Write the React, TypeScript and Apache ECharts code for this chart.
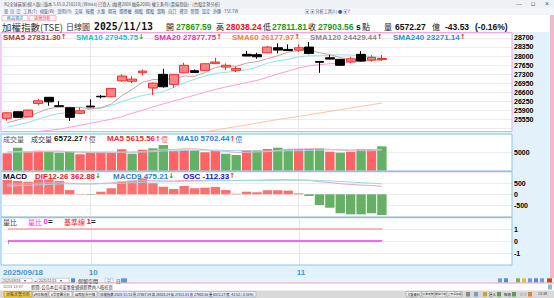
import React, { useEffect, useRef } from 'react';
import * as echarts from 'echarts';

// ---------- data ----------
const dates = [
  '2025/09/18', '2025/09/19', '2025/09/22', '2025/09/23', '2025/09/24', '2025/09/25', '2025/09/26', '2025/09/30',
  '2025/10/01', '2025/10/02', '2025/10/03', '2025/10/07', '2025/10/08', '2025/10/09', '2025/10/13', '2025/10/14',
  '2025/10/15', '2025/10/16', '2025/10/17', '2025/10/20', '2025/10/21', '2025/10/22', '2025/10/23', '2025/10/27',
  '2025/10/28', '2025/10/29', '2025/10/30', '2025/10/31', '2025/11/03', '2025/11/04', '2025/11/05', '2025/11/06',
  '2025/11/07', '2025/11/10', '2025/11/11', '2025/11/12', '2025/11/13',
];
const opens = [25585, 25840, 25645, 26165, 26400, 26075, 25995, 25780, 26060, 26440, 26420, 27040, 27020, 27350, 26760, 27290, 26900, 27350, 27430, 27445, 27715, 27570, 27445, 28065, 28050, 28125, 28320, 28255, 28230, 28345, 27790, 27930, 27870, 27775, 28065, 27845, 27867.59];
const highs = [25815, 25850, 25920, 26330, 26410, 26255, 26005, 26010, 26320, 26490, 26755, 27290, 27220, 27480, 26970, 27505, 27300, 27740, 27480, 27720, 27930, 27715, 27585, 28190, 28125, 28385, 28490, 28450, 28450, 28540, 27805, 28035, 27880, 27970, 28190, 28035, 28038.24];
const lows = [25495, 25610, 25630, 26090, 26070, 26040, 25490, 25750, 26015, 26360, 26410, 27000, 26950, 27250, 26490, 26770, 26770, 27340, 27350, 27415, 27705, 27455, 27380, 27990, 27895, 28100, 28100, 28200, 28155, 28065, 27350, 27870, 27610, 27715, 27790, 27780, 27811.81];
const closes = [25800, 25625, 25905, 26265, 26225, 26050, 25625, 25880, 26025, 26420, 26745, 27225, 27105, 27415, 26950, 26810, 27290, 27640, 27365, 27700, 27765, 27640, 27520, 28000, 27970, 28345, 28230, 28210, 28320, 28100, 27755, 27880, 27640, 27890, 27805, 27947.09, 27903.56];

const sma5 = [25420, 25520, 25650, 25815, 25964, 26014, 26014, 26009, 25961, 26000, 26139, 26459, 26704, 26982, 27088, 27101, 27114, 27221, 27211, 27361, 27552, 27622, 27598, 27725, 27779, 27895, 28013, 28151, 28215, 28241, 28123, 28053, 27939, 27853, 27794, 27832, 27831.3];
const sma10 = [25250, 25330, 25430, 25560, 25680, 25770, 25820, 25870, 25940, 25982, 26077, 26237, 26357, 26472, 26544, 26620, 26787, 26963, 27097, 27225, 27327, 27368, 27410, 27468, 27570, 27724, 27818, 27875, 27970, 28010, 28009, 28033, 28045, 28034, 28017, 27977, 27945.75];
const sma20 = [24950, 24990, 25040, 25080, 25120, 25165, 25241, 25318, 25396, 25473, 25551, 25652, 25784, 25900, 26028, 26144, 26260, 26370, 26480, 26600, 26702, 26802, 26883, 26970, 27057, 27172, 27302, 27419, 27533, 27617, 27668, 27701, 27727, 27751, 27794, 27851, 27877.75];
const sma60 = [23910, 23975, 24030, 24095, 24150, 24215, 24270, 24330, 24395, 24450, 24515, 24570, 24630, 24695, 24750, 24815, 24870, 24935, 24990, 25060, 25130, 25200, 25265, 25330, 25400, 25470, 25540, 25600, 25660, 25725, 25790, 25855, 25920, 25985, 26050, 26114, 26177.97];

const volumes = [4700, 6210, 4970, 5400, 5130, 4860, 5130, 4430, 4860, 5050, 4860, 5780, 4590, 5670, 6050, 6940, 5320, 5670, 5510, 4970, 5320, 4590, 4240, 5590, 5510, 5860, 6210, 5860, 5860, 5860, 6050, 5130, 4860, 5130, 5860, 5780, 6572.27];
const volMa5 = [5000, 5150, 5100, 5200, 5282, 5314, 5098, 4990, 4882, 4866, 4866, 4996, 5028, 5190, 5390, 5806, 5714, 5930, 5898, 5682, 5358, 5212, 4926, 4942, 5050, 5158, 5482, 5806, 5860, 5930, 5968, 5752, 5552, 5406, 5406, 5352, 5615.56];
const volMa10 = [5050, 5100, 5100, 5120, 5140, 5150, 5140, 5100, 5080, 5074, 5090, 5047, 5009, 5036, 5128, 5336, 5355, 5479, 5544, 5536, 5582, 5463, 5428, 5420, 5366, 5258, 5347, 5366, 5401, 5490, 5563, 5617, 5679, 5633, 5668, 5660, 5702.44];

const dif = [453.5, 465.5, 478.5, 511.8, 532, 541, 497.8, 477.3, 471.5, 492, 519.3, 571.3, 595.8, 630.5, 618.5, 609.8, 605, 632.3, 628.5, 640.5, 654.5, 643.3, 623.8, 638.3, 638, 654.5, 660, 663, 649.3, 633, 569.5, 536.3, 480.5, 447.3, 420, 400.3, 362.88];
const dea = [375.5, 393.5, 410.5, 430.8, 451, 469, 474.8, 475.3, 474.5, 478, 486.3, 503.3, 521.8, 543.5, 558.5, 568.8, 576, 587.3, 595.5, 604.5, 614.5, 620.3, 620.8, 624.3, 627, 632.5, 638, 643, 644.3, 642, 627.5, 609.3, 583.5, 556.3, 529, 503.3, 475.21];
const osc = [78, 72, 68, 81, 81, 72, 23, 2, -3, 14, 33, 68, 74, 87, 60, 41, 29, 45, 33, 36, 40, 23, 3, 14, 11, 22, 22, 20, 5, -9, -58, -73, -103, -109, -109, -103, -112.33];

const volRatio = [0, 0, 0, 0, 0, 0, 0, 0, 0, 0, 0, 0, 0, 0, 0, 0, 0, 0, 0, 0, 0, 0, 0, 0, 0, 0, 0, 0, 0, 0, 0, 0, 0, 0, 0, 0, 0];
const baseLine = [1, 1, 1, 1, 1, 1, 1, 1, 1, 1, 1, 1, 1, 1, 1, 1, 1, 1, 1, 1, 1, 1, 1, 1, 1, 1, 1, 1, 1, 1, 1, 1, 1, 1, 1, 1, 1];

const prevClose = 27947.09;

// ---------- styling ----------
const UP = '#ff2b2b';
const GREEN = '#1a9a1a';
const LATIN = '"Liberation Sans", Arial, sans-serif';
const CJK = '"Noto Sans CJK TC", "Noto Sans CJK SC", sans-serif';
const ARROW = '"DejaVu Sans", sans-serif';
const LIGHT_BLUE = '#e3f1fb';
const PINK_BORDER = '#f0a8e8';
const BLUE_BORDER = '#8ec5ea';

const monthStarts = dates.filter((d, i) => i > 0 && d.slice(0, 7) !== dates[i - 1].slice(0, 7));
const isLabelIdx = (i: number) => i === 0 || (i > 0 && i < dates.length && dates[i].slice(0, 7) !== dates[i - 1].slice(0, 7));

const T = (x: number, y: number, text: string, fill: string, font: string, align: string = 'left', lineHeight?: number) => ({
  type: 'text', x, y, z: 100, silent: true,
  style: { text, fill, font, align, verticalAlign: 'middle', ...(lineHeight ? { lineHeight } : {}) },
});
// rich text: parts flow one after another
const RT = (x: number, y: number, parts: [string, string, string][]) => {
  const rich: any = {};
  let text = '';
  parts.forEach(([t, fill, font], k) => {
    rich['p' + k] = { fill, font, lineHeight: 8 };
    text += `{p${k}|${t}}`;
  });
  return { type: 'text', x, y, z: 100, silent: true, style: { text, rich, align: 'left', verticalAlign: 'middle' } };
};
const R = (x: number, y: number, w: number, h: number, fill: string, stroke?: string, z = -10) => ({
  type: 'rect', z, silent: true, shape: { x, y, width: w, height: h },
  style: { fill, stroke: stroke || null, lineWidth: stroke ? 0.6 : 0 },
});
const Box = (x: number, y: number, w: number, h: number, stroke: string) => ({
  type: 'rect', z: 90, silent: true, shape: { x, y, width: w, height: h }, style: { fill: null, stroke, lineWidth: 1 },
});

export default function App() {
  const ref = useRef<HTMLDivElement>(null);

  useEffect(() => {
    if (!ref.current) return;
    const chart = echarts.init(ref.current, undefined, { renderer: 'svg' });

    const B8 = `bold 8px ${LATIN}`;
    const AR = `bold 7px ${ARROW}`;
    const up: [string, string, string] = ['↑', UP, AR];
    const dn: [string, string, string] = ['↓', GREEN, AR];
    const HP = `bold 8.5px ${LATIN}`;
    const HC = `8px ${CJK}`;
    const HY = 26.7;

    const graphic: any[] = [
      // page backgrounds
      R(0, 0, 554, 8, '#eef2f7'),
      R(0, 8, 554, 7, '#f3f5f8'),
      R(0, 15, 554, 7, '#ffffff'),
      R(0, 22, 554, 10, '#ffffff'),
      R(0, 32, 550, 246, LIGHT_BLUE),
      R(550, 15, 4, 268, '#f3b9c9'),
      // panels
      R(1, 32.5, 511, 99, '#ffffff'),
      R(1, 134, 511, 37, '#ffffff'),
      R(1, 171.5, 511, 45.5, '#ffffff'),
      R(1, 217.5, 511, 47.5, '#ffffff'),
      Box(1, 32.5, 511, 99, PINK_BORDER),
      Box(1, 134, 511, 37, BLUE_BORDER),
      Box(1, 171.5, 511, 45.5, BLUE_BORDER),
      Box(1, 217.5, 511, 47.5, BLUE_BORDER),
      // bottom areas
      R(0, 278, 554, 5, '#e8f2fa'),
      R(0, 283, 554, 7.5, '#ffffff'),
      { type: 'line', z: 90, silent: true, shape: { x1: 0, y1: 283, x2: 554, y2: 283 }, style: { stroke: '#f0a0b4', lineWidth: 1 } },
      R(0, 290.5, 554, 7.5, '#d9d9d9'),

      // title bar
      T(4, 3.8, 'XQ全球贏家(個人版) [版本 5.65.0.250210] [Win64] 已登入 (融資2000 融券2000) 權王系列 (雲端登錄) - [台股走勢分析]', '#555', `4.2px ${CJK}`, 'left', 5),
      T(519, 3.5, '—', '#555', `6px ${LATIN}`, 'center', 6),
      T(533, 3.5, '▫', '#555', `7px ${ARROW}`, 'center', 6),
      T(547, 3.5, '×', '#555', `7px ${LATIN}`, 'center', 6),
      // toolbar
      T(4, 11.3, '▦  ▤  ▥   工具(T)   視窗(W)   說明(H)   交易   報價   大盤   期貨   選擇權   個股   選股   策略   自訂   資訊   新聞   設定   外匯   TSE.TW', '#3a5a8a', `4.2px ${CJK}`, 'left', 5),
      T(305, 11.3, '▣ ▣ 分析工具(L) ● ▣ f', '#3a5a8a', `4.2px ${CJK}`, 'left', 5),
      // tabs
      { type: 'rect', z: 1, silent: true, shape: { x: 2, y: 15.4, width: 26, height: 5.4 }, style: { fill: '#ffffff', stroke: '#f0a0c0', lineWidth: 0.8 } },
      { type: 'rect', z: 1, silent: true, shape: { x: 29, y: 15.4, width: 27, height: 5.4 }, style: { fill: '#fff0f6', stroke: '#f0a0c0', lineWidth: 0.8 } },
      T(15, 18, '商品資訊', '#3a7ab8', `4.1px ${CJK}`, 'center', 4.5),
      T(42.5, 18, '技術分析', '#e03040', `4.1px ${CJK}`, 'center', 4.5),

      // header line
      T(2, HY, '加權指數(TSE)', '#333', `9.5px ${CJK}`, 'left', 10),
      T(66, HY, '日線圖', '#333', `8px ${CJK}`, 'left', 9),
      T(94, HY, '2025/11/13', '#111', 'bold 9.8px "DejaVu Sans Mono"', 'left', 10),
      T(166, HY, '開', '#222', HC, 'left', 9),
      T(176, HY, '27867.59', GREEN, HP, 'left', 9),
      T(216, HY, '高', '#222', HC, 'left', 9),
      T(226, HY, '28038.24', '#ee1111', HP, 'left', 9),
      T(263, HY, '低', '#222', HC, 'left', 9),
      T(272, HY, '27811.81', GREEN, HP, 'left', 9),
      T(308, HY, '收', '#222', HC, 'left', 9),
      T(318, HY, '27903.56', GREEN, HP, 'left', 9),
      T(356, HY, 's', '#111', HP, 'left', 9),
      T(362, HY, '點', '#222', HC, 'left', 9),
      T(384, HY, '量', '#222', HC, 'left', 9),
      T(395, HY, '6572.27', '#111', HP, 'left', 9),
      T(432, HY, '億', '#222', HC, 'left', 9),
      T(445, HY, (closes[36] - prevClose).toFixed(2), '#111', HP, 'left', 9),
      T(475, HY, '(-0.16%)', '#111', HP, 'left', 9),

      // SMA legend
      RT(3, 37.2, [['SMA5 27831.30', '#b03a2e', B8], up]),
      RT(76, 37.2, [['SMA10 27945.75', '#22c0c8', B8], dn]),
      RT(154, 37.2, [['SMA20 27877.75', '#e8349c', B8], up]),
      RT(232, 37.2, [['SMA60 26177.97', '#ff7a3a', B8], up]),
      RT(310, 37.2, [['SMA120 24429.44', '#8a8a8a', B8], up]),
      RT(393, 37.2, [['SMA240 23271.14', '#2b8fde', B8], up]),

      // volume legend
      T(3, 138.6, '成交量', '#555', `7px ${CJK}`, 'left', 8),
      T(31, 138.6, '成交量', '#333', `7px ${CJK}`, 'left', 8),
      RT(54, 138.6, [['6572.27', '#111', B8], up, ['億', '#666', `7px ${CJK}`]]),
      RT(107, 138.6, [['MA5 5615.56', '#ee2a2a', B8], up, ['億', '#ee5a5a', `7px ${CJK}`]]),
      RT(177, 138.6, [['MA10 5702.44', '#2a80d6', B8], up, ['億', '#2a80d6', `7px ${CJK}`]]),

      // MACD legend
      T(3, 176.3, 'MACD', '#111', B8, 'left', 8),
      RT(35, 176.3, [['DIF12-26 362.88', '#ee2222', B8], dn]),
      RT(113, 176.3, [['MACD9 475.21', '#2a80d6', B8], dn]),
      RT(183, 176.3, [['OSC -112.33', '#1414c8', B8], up]),

      // ratio legend
      T(3, 221.6, '量比', '#444', `7px ${CJK}`, 'left', 8),
      RT(28, 221.6, [['量比 ', '#ff30ff', `7px ${CJK}`], ['0', '#ff30ff', B8], ['=', '#111', B8]]),
      RT(64, 221.6, [['基準線 ', '#ee2222', `7px ${CJK}`], ['1', '#ee2222', B8], ['=', '#111', B8]]),

      // controls row
      { type: 'rect', z: 1, silent: true, shape: { x: 2, y: 278.3, width: 30, height: 4.4 }, style: { fill: '#fff', stroke: '#9aa', lineWidth: 0.5 } },
      T(3, 280.5, '2025/09/18    ▾', '#444', `3.5px ${LATIN}`, 'left', 4),
      T(34, 280.5, '~', '#444', `5px ${LATIN}`, 'left', 5),
      { type: 'rect', z: 1, silent: true, shape: { x: 38, y: 278.3, width: 31, height: 4.4 }, style: { fill: '#fff', stroke: '#9aa', lineWidth: 0.5 } },
      T(39, 280.5, '2025/11/13    ▾', '#444', `3.5px ${LATIN}`, 'left', 4),
      R(71, 278.3, 4, 4.4, '#4a8fd0', undefined, 1),
      T(78, 280.5, '保留空間', '#333', `5px ${CJK}`, 'left', 5),
      { type: 'rect', z: 1, silent: true, shape: { x: 105, y: 278.3, width: 8, height: 4.4 }, style: { fill: '#fff', stroke: '#9aa', lineWidth: 0.5 } },
      T(107, 280.5, '12', '#444', `3.5px ${LATIN}`, 'left', 4),
      T(116, 280.5, '日', '#333', `4.5px ${CJK}`, 'left', 5),
      R(121, 278.3, 6, 4.4, '#5a9ad6', undefined, 1),
      R(498, 278.3, 4, 4.2, '#6aa0d8', undefined, 1), R(504, 278.3, 4, 4.2, '#4f8fd0', undefined, 1),
      R(510, 278.3, 4, 4.2, '#e8f0f8', undefined, 1), R(516, 278.3, 4, 4.2, '#7ab060', undefined, 1),
      R(522, 278.3, 4, 4.2, '#e0c040', undefined, 1), R(528, 278.3, 4, 4.2, '#6aa0d8', undefined, 1),
      R(534, 278.3, 4, 4.2, '#4f8fd0', undefined, 1), R(540, 278.3, 4, 4.2, '#6aa0d8', undefined, 1),
      R(547, 278.3, 5, 4.4, '#e03a2a', undefined, 1),

      // news row
      T(3, 287, '11/13 13:37', '#666', `3.8px ${LATIN}`, 'left', 5),
      T(31, 287, '新聞: 公告本公司董事會通過新聘內人稽核案', '#333', `4.2px ${CJK}`, 'left', 5),
      R(548, 284.5, 4, 5, '#8fb8e0', undefined, 1),

      // taskbar
      R(4, 291.5, 28, 5.5, '#ffd34a', '#b08a20', 1),
      T(18, 294.3, '台股走勢分析', '#222', `4px ${CJK}`, 'center', 5),
      R(33, 291.5, 15, 5.5, '#f4f4f4', '#999', 1),
      T(40.5, 294.3, '評估報價', '#222', `3.4px ${CJK}`, 'center', 4),
      R(49, 291.5, 23, 5.5, '#f4f4f4', '#999', 1),
      T(60.5, 294.3, 'k學習圖分析', '#222', `3.4px ${CJK}`, 'center', 4),
      R(73, 291.5, 24, 5.5, '#f4f4f4', '#999', 1),
      T(85, 294.3, '國際股市行情', '#222', `3.4px ${CJK}`, 'center', 4),
      R(99, 291.5, 157, 5.5, '#e6eef8', '#aab', 1),
      T(100, 294.3, '加權指數 2025/11/13 開 27867.59 高 28038.24 低 27811.81 收 27903.56 量 6572.27 億 -43.53 (-0.16%)', '#224', `3.4px ${CJK}`, 'left', 4),
      R(406, 291.5, 15, 5.5, '#f4f4f4', '#999', 1), T(413.5, 294.3, '大盤資料', '#222', `3.2px ${CJK}`, 'center', 4),
      R(422, 291.5, 12, 5.5, '#f4f4f4', '#999', 1), T(428, 294.3, '大盤走勢', '#222', `2.8px ${CJK}`, 'center', 4),
      R(435, 291.5, 11, 5.5, '#f4f4f4', '#999', 1), T(440.5, 294.3, '類股行情', '#222', `2.6px ${CJK}`, 'center', 4),
      R(447, 291.5, 15, 5.5, '#f4f4f4', '#999', 1), T(454.5, 294.3, '上市漲跌幅', '#222', `2.8px ${CJK}`, 'center', 4),
      R(466, 292, 4, 4.5, '#8a8a8a', undefined, 1), R(474, 292, 4, 4.5, '#7a9ac0', undefined, 1),
      R(483, 292, 4, 4.5, '#d0a040', undefined, 1),
      T(489, 294.3, '匯入', '#222', `3.4px ${CJK}`, 'left', 4), R(497, 292, 4, 4.5, '#5aa050', undefined, 1),
      T(504, 294.3, '報價', '#222', `3.4px ${CJK}`, 'left', 4), R(512, 292, 4, 4.5, '#5aa050', undefined, 1),
      T(520, 294.3, '設定', '#999', `3.4px ${CJK}`, 'left', 4), R(528, 292, 4, 4.5, '#e08040', undefined, 1),
      T(538, 294.3, '13:38', '#444', `3.6px ${LATIN}`, 'left', 4),
    ];

    const xBase = (gridIndex: number) => ({
      type: 'category', gridIndex, data: dates, max: dates.length + 11,
      axisLine: { show: false }, axisTick: { show: false }, axisLabel: { show: false }, splitLine: { show: false },
    });
    const yLabel = {
      color: '#000', fontSize: 7, fontWeight: 'bold', fontFamily: 'Liberation Sans', margin: 2,
      showMinLabel: false, showMaxLabel: false, formatter: (v: number) => String(v),
    };
    const gridLine = { lineStyle: { color: '#ececec' } };
    const monthLines = (z = 1) => ({
      silent: true, z, symbol: ['none', 'none'], label: { show: false },
      lineStyle: { color: '#e6e6e6', type: 'solid', width: 1 },
      data: monthStarts.map((d) => ({ xAxis: d })),
    });
    const line = (name: string, data: number[], color: string, xi: number, yi: number, width = 1, extra: any = {}) => ({
      name, type: 'line', data, xAxisIndex: xi, yAxisIndex: yi, symbol: 'none', silent: true,
      lineStyle: { color, width }, itemStyle: { color }, ...extra,
    });
    const dateFont = { color: '#3a9ad9', fontSize: 8, fontWeight: 'bold', fontFamily: 'Liberation Sans' };

    const option: any = {
      animation: false,
      backgroundColor: '#ffffff',
      graphic,
      grid: [
        { left: 2, width: 510, top: 33, height: 95.3 },
        { left: 2, width: 510, top: 33, height: 97.5 },
        { left: 2, width: 510, top: 134.5, height: 36.2 },
        { left: 2, width: 510, top: 172.3, height: 44 },
        { left: 2, width: 510, top: 218.5, height: 46.5 },
      ],
      xAxis: [
        xBase(0), xBase(1), xBase(2), xBase(3),
        {
          ...xBase(4),
          axisTick: {
            show: true, alignWithLabel: true, length: 3, lineStyle: { color: '#7ab4e0' },
            interval: (i: number) => isLabelIdx(i),
          },
          axisLabel: {
            show: true, margin: 3, ...dateFont,
            interval: (i: number) => isLabelIdx(i),
            formatter: (v: string, i: number) => (i === 0 ? `{first|${v}}` : `{mon|${Number(v.slice(5, 7))}}`),
            rich: {
              first: { padding: [0, 0, 0, 30], ...dateFont },
              mon: { padding: [0, 0, 0, 4], ...dateFont },
            },
          },
        },
      ],
      yAxis: [
        { type: 'value', gridIndex: 0, position: 'right', min: 25200, max: 28890.8, interval: 350, axisLine: { show: false }, axisTick: { show: false }, axisLabel: yLabel, splitLine: gridLine },
        { type: 'value', gridIndex: 1, min: 25114.6, max: 28890.8, show: false, splitLine: { show: false } },
        { type: 'value', gridIndex: 2, position: 'right', min: 0, max: 9774, interval: 5000, axisLine: { show: false }, axisTick: { show: false }, axisLabel: yLabel, splitLine: gridLine },
        { type: 'value', gridIndex: 3, position: 'right', min: -1000, max: 1000, interval: 500, axisLine: { show: false }, axisTick: { show: false }, axisLabel: yLabel, splitLine: gridLine },
        { type: 'value', gridIndex: 3, min: -119.5, max: 119.5, show: false, splitLine: { show: false } },
        { type: 'value', gridIndex: 4, position: 'right', min: -2, max: 1.875, interval: 1, axisLine: { show: false }, axisTick: { show: false }, axisLabel: yLabel, splitLine: gridLine },
      ],
      series: [
        line('SMA60', sma60, '#ffc4a4', 1, 1, 1, { z: 1, markLine: monthLines() }),
        line('SMA20', sma20, '#f8a0dc', 1, 1),
        line('SMA10', sma10, '#8ee4e6', 1, 1),
        line('SMA5', sma5, '#c9a29c', 1, 1),
        {
          name: 'K', type: 'candlestick', xAxisIndex: 1, yAxisIndex: 1, z: 3, barWidth: '90%', silent: true,
          data: dates.map((_, i) => [opens[i], closes[i], lows[i], highs[i]]),
          itemStyle: { color: '#ff8585', color0: '#000000', borderColor: '#ff2a2a', borderColor0: '#000000', borderWidth: 1 },
        },
        {
          name: '成交量', type: 'bar', xAxisIndex: 2, yAxisIndex: 2, barWidth: '90%', silent: true,
          markLine: monthLines(1),
          data: volumes.map((v, i) => {
            const isUp = i === 0 ? closes[0] >= opens[0] : closes[i] >= closes[i - 1];
            return { value: v, itemStyle: { color: isUp ? '#ff6464' : '#64b064' } };
          }),
        },
        line('MA5', volMa5, '#e8b0b8', 2, 2, 1, { z: 4 }),
        line('MA10', volMa10, '#a8d4f0', 2, 2, 1, { z: 4 }),
        {
          name: 'OSC', type: 'bar', xAxisIndex: 3, yAxisIndex: 4, barWidth: '90%', silent: true,
          markLine: monthLines(1),
          data: osc.map((v) => ({ value: v, itemStyle: { color: v >= 0 ? '#ff7070' : '#66b066' } })),
        },
        line('DIF', dif, '#f4a0c0', 3, 3, 1, { z: 4 }),
        line('MACD9', dea, '#8ee0e4', 3, 3, 1, { z: 4 }),
        line('基準線', baseLine, '#f4a4a4', 4, 5, 1.5, { markLine: monthLines(1) }),
        line('量比', volRatio, '#ff30ff', 4, 5, 1.5),
      ],
    };

    chart.setOption(option);
    return () => chart.dispose();
  }, []);

  return (
    <div
      ref={ref}
      style={{ position: 'fixed', left: 0, top: 0, width: 554, height: 298, background: '#fff' }}
    />
  );
}
